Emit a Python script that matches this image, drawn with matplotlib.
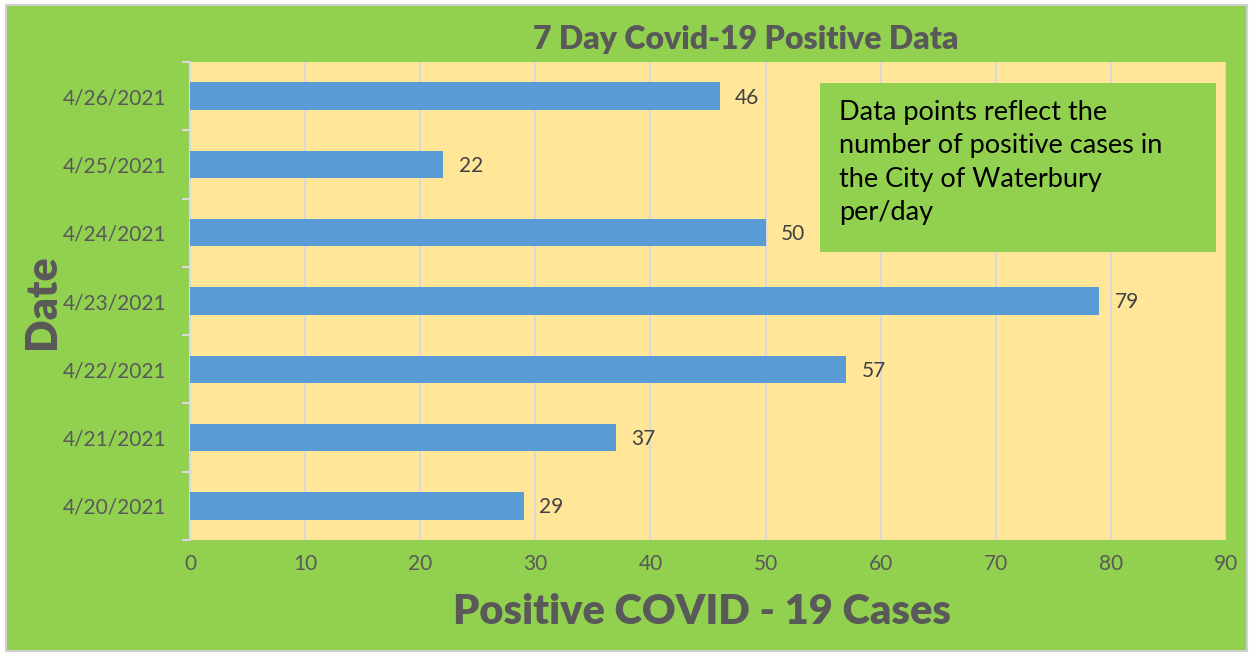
import matplotlib.pyplot as plt
import numpy as np
from matplotlib.patches import Rectangle

dates = ['4/20/2021', '4/21/2021', '4/22/2021', '4/23/2021',
         '4/24/2021', '4/25/2021', '4/26/2021']
casos = [29, 37, 57, 79, 50, 22, 46]
x_ticks = [0, 10, 20, 30, 40, 50, 60, 70, 80, 90]

verde = '#92D050'
amarelo = '#FFE699'
azul = '#5B9BD5'
cinza = '#595959'

plt.rcParams['font.family'] = ['Lato', 'DejaVu Sans']

fig = plt.figure(figsize=(12.52, 6.56), dpi=100)
fig.patch.set_facecolor('white')
fig.patches.append(Rectangle((6 / 1252, 5 / 656), 1241 / 1252, 646 / 656,
                             transform=fig.transFigure, facecolor=verde,
                             edgecolor='#d0d0d0', lw=1.5, zorder=-1))

ax = fig.add_axes([190 / 1252, 116 / 656, 1036 / 1252, 478 / 656])
ax.set_facecolor(amarelo)

y = np.arange(len(dates))
ax.barh(y, casos, height=0.4, color=azul, zorder=3)
for yi, v in zip(y, casos):
    ax.annotate(str(v), (v, yi), xytext=(11, -1), textcoords='offset points',
                va='center', ha='left', fontsize=15, color='#404040')

ax.set_xlim(0, 90)
ax.set_ylim(-0.5, len(dates) - 0.5)
ax.set_xticks(x_ticks)
ax.set_yticks(y)
ax.set_yticklabels(dates)
ax.set_yticks(np.arange(-0.5, len(dates)), minor=True)
ax.tick_params(axis='y', which='major', length=0, pad=17, labelsize=15, labelcolor=cinza)
ax.tick_params(axis='y', which='minor', length=6, color='#d9d9d9', width=1.5)
ax.tick_params(axis='x', length=0, pad=10, labelsize=15, labelcolor=cinza)
ax.grid(axis='x', color='#d9d9d9', lw=1.5, zorder=0)

for s in ['top', 'right', 'bottom']:
    ax.spines[s].set_visible(False)
ax.spines['left'].set_color('#d9d9d9')
ax.spines['left'].set_linewidth(1.5)

fig.text(746 / 1252, 1 - 40 / 656, '7 Day Covid-19 Positive Data', ha='center', va='center',
         fontsize=23, fontweight='heavy', color=cinza)
fig.text(702 / 1252, 1 - 612 / 656, 'Positive COVID - 19 Cases', ha='center', va='center',
         fontsize=30, fontweight='heavy', color=cinza)
fig.text(42 / 1252, 1 - 302 / 656, 'Date', ha='center', va='center', rotation=90,
         fontsize=31, fontweight='heavy', color=cinza)

fig.patches.append(Rectangle((820 / 1252, 1 - 252 / 656), 396 / 1252, 169 / 656,
                             transform=fig.transFigure, facecolor=verde,
                             edgecolor='none', zorder=5))
fig.text(839 / 1252, 1 - 100 / 656,
         'Data points reflect the\nnumber of positive cases in\nthe City of Waterbury\nper/day',
         ha='left', va='top', fontsize=19.5, color='black', linespacing=1.42, zorder=6)

fig.savefig('out.png', dpi=100)
